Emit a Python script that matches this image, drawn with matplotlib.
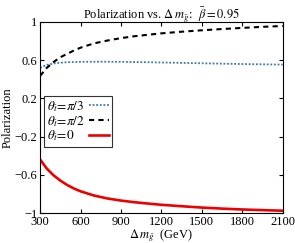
import matplotlib
matplotlib.use('Agg')
import matplotlib.pyplot as plt
import numpy as np

plt.rcParams['font.family'] = ['Liberation Serif', 'DejaVu Serif']
plt.rcParams['mathtext.fontset'] = 'stix'
plt.rcParams['font.size'] = 9

# mass splitting (GeV)
dm = [300, 350, 400, 450, 500, 550, 600, 700, 800, 900, 1000, 1100, 1200, 1350, 1500, 1650, 1800, 1950, 2100]

# polarization for each stop mixing angle
pol_pi3 = [0.52, 0.55, 0.565, 0.573, 0.578, 0.580, 0.582, 0.583, 0.583, 0.582, 0.580, 0.578, 0.575, 0.571, 0.567, 0.563, 0.559, 0.556, 0.553]
pol_pi2 = [0.435, 0.52, 0.58, 0.63, 0.665, 0.70, 0.73, 0.775, 0.805, 0.83, 0.85, 0.865, 0.88, 0.897, 0.912, 0.925, 0.937, 0.948, 0.957]
pol_0 = [-0.44, -0.535, -0.605, -0.66, -0.705, -0.742, -0.772, -0.816, -0.847, -0.869, -0.886, -0.90, -0.913, -0.928, -0.942, -0.953, -0.962, -0.969, -0.975]

fig, ax = plt.subplots(figsize=(2.95, 2.43), dpi=100)
fig.subplots_adjust(left=0.136, right=0.958, top=0.91, bottom=0.123)

ax.plot(dm, pol_pi3, color='#3a78b0', ls=(0, (1, 1)), lw=1.3, label=r'$\theta_{\tilde{t}}\!=\!\pi/3$')
ax.plot(dm, pol_pi2, color='black', ls=(0, (2.5, 2)), lw=1.5, label=r'$\theta_{\tilde{t}}\!=\!\pi/2$')
ax.plot(dm, pol_0, color='#ee0000', lw=1.9, label=r'$\theta_{\tilde{t}}\!=\!0$')

ax.set_xlim(300, 2100)
ax.set_ylim(-1, 1)
ax.set_xticks([300, 600, 900, 1200, 1500, 1800, 2100])
ax.set_yticks([1, 0.6, 0.2, -0.2, -0.6, -1])
ax.set_yticklabels(['1', '0.6', '0.2', '\u22120.2', '\u22120.6', '\u22121'])
ax.tick_params(direction='in', top=True, right=True, length=3, pad=2, labelsize=9)

ax.set_title(r'Polarization vs. $\Delta\,m_{\tilde{g}}$:  $\bar{\beta}=0.95$', fontsize=9, pad=3)
ax.set_xlabel(r'$\Delta\,m_{\tilde{g}}$  (GeV)', fontsize=9, labelpad=-0.5)
ax.set_ylabel('Polarization', fontsize=9, labelpad=1)

leg = ax.legend(loc='upper left', bbox_to_anchor=(0.0, 0.635), markerfirst=False,
                fancybox=False, edgecolor='black', fontsize=9.5, handlelength=1.5,
                borderpad=0.25, labelspacing=0.0, handletextpad=0.3, borderaxespad=0.3)
leg.get_frame().set_linewidth(0.8)

# left-align the labels while keeping the line samples in one column
fig.canvas.draw()
r = fig.canvas.get_renderer()
col = leg._legend_handle_box.get_children()[0]
col.align = 'left'
widths = [t.get_window_extent(r).width for t in leg.texts]
for row, w in zip(col.get_children(), widths):
    row.sep += (max(widths) - w) / r.points_to_pixels(1.)

plt.savefig('out.png', dpi=100)
